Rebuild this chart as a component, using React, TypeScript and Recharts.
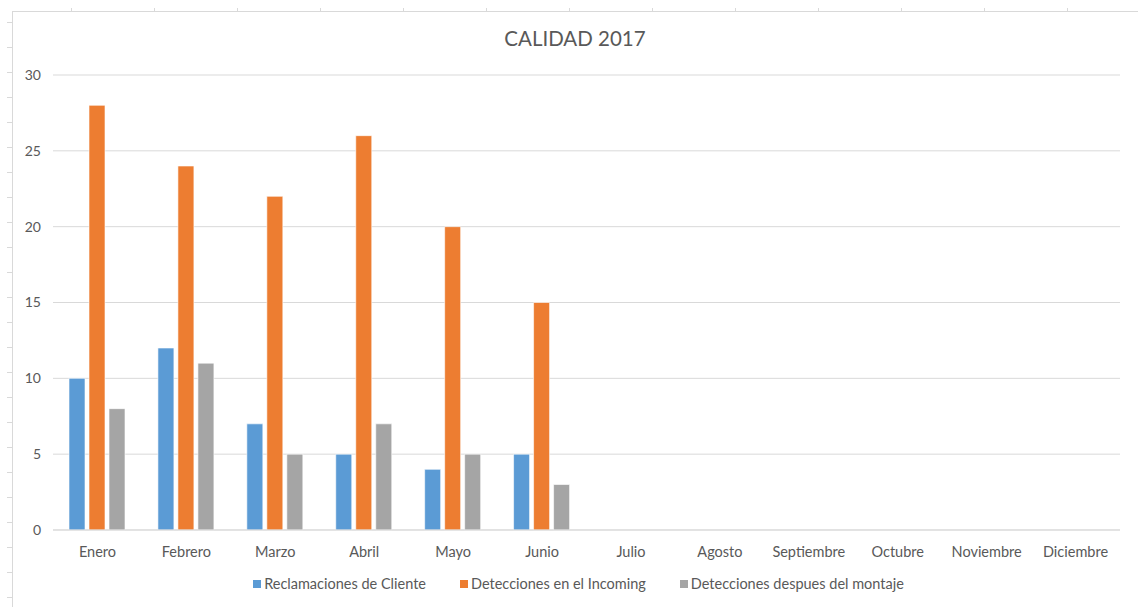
import React from 'react';
import { BarChart, Bar, XAxis, YAxis, CartesianGrid, Legend } from 'recharts';

// meses y series
const months = [
  'Enero', 'Febrero', 'Marzo', 'Abril', 'Mayo', 'Junio',
  'Julio', 'Agosto', 'Septiembre', 'Octubre', 'Noviembre', 'Diciembre',
];
const reclamaciones = [10, 12, 7, 5, 4, 5, null, null, null, null, null, null];
const incoming = [28, 24, 22, 26, 20, 15, null, null, null, null, null, null];
const montaje = [8, 11, 5, 7, 5, 3, null, null, null, null, null, null];
const yTicks = [0, 5, 10, 15, 20, 25, 30];

const series = [
  { key: 'reclamaciones', name: 'Reclamaciones de Cliente', color: '#5B9BD5' },
  { key: 'incoming', name: 'Detecciones en el Incoming', color: '#ED7D31' },
  { key: 'montaje', name: 'Detecciones despues del montaje', color: '#A5A5A5' },
];

const data = months.map((m, i) => ({
  name: m,
  reclamaciones: reclamaciones[i],
  incoming: incoming[i],
  montaje: montaje[i],
}));

const FONT = 'Lato, "Open Sans", sans-serif';
const TEXT = '#595959';
const GRID = '#D9D9D9';

const renderLegend = () => (
  <div style={{ display: 'flex', justifyContent: 'center', gap: 34, fontFamily: FONT, fontSize: 14.5, lineHeight: '17px', color: TEXT, paddingLeft: 18 }}>
    {series.map((s) => (
      <span key={s.key} style={{ display: 'flex', alignItems: 'center' }}>
        <span style={{ width: 8, height: 8, background: s.color, marginRight: 3, display: 'inline-block' }} />
        {s.name}
      </span>
    ))}
  </div>
);

export default function App() {
  return (
    <div style={{ position: 'absolute', left: 0, top: 0, width: 1138, height: 607, background: '#fff', overflow: 'hidden' }}>
      {/* marco de la hoja detrás del gráfico */}
      <div style={{
        position: 'absolute', left: 71, top: 8, right: 0, height: 3,
        backgroundImage: `repeating-linear-gradient(to right, ${GRID} 0 1px, transparent 1px 83px)`,
      }} />
      <div style={{
        position: 'absolute', left: 7, top: 22, width: 5, bottom: 0,
        backgroundImage: `repeating-linear-gradient(to bottom, ${GRID} 0 1px, transparent 1px 25px)`,
      }} />
      <div style={{ position: 'absolute', left: 12, top: 11, right: 0, bottom: 0, borderLeft: `1px solid ${GRID}`, borderTop: `1px solid ${GRID}` }} />

      <div style={{ position: 'absolute', left: 0, top: 26, width: 1150, textAlign: 'center', fontFamily: FONT, fontSize: 20.5, color: TEXT }}>
        CALIDAD 2017
      </div>

      <div style={{ position: 'absolute', left: 1, top: 0 }}>
        <BarChart
          width={1137}
          height={607}
          data={data}
          margin={{ top: 75, right: 18, left: 0, bottom: 30 }}
          barSize={16}
          barGap={4}
          style={{ fontFamily: FONT }}
        >
          <CartesianGrid vertical={false} stroke={GRID} />
          <XAxis
            dataKey="name"
            axisLine={{ stroke: GRID }}
            tickLine={false}
            tickMargin={11}
            interval={0}
            tick={{ fill: TEXT, fontSize: 14.5 }}
          />
          <YAxis
            width={52}
            domain={[0, 30]}
            ticks={yTicks}
            axisLine={false}
            tickLine={false}
            tickMargin={6}
            tick={{ fill: TEXT, fontSize: 14 }}
          />
          <Legend content={renderLegend} wrapperStyle={{ top: 575, left: 0, width: 1137 }} />
          {series.map((s) => (
            <Bar key={s.key} dataKey={s.key} name={s.name} fill={s.color} stroke="#fff" strokeWidth={0.6} isAnimationActive={false} />
          ))}
        </BarChart>
      </div>
    </div>
  );
}
